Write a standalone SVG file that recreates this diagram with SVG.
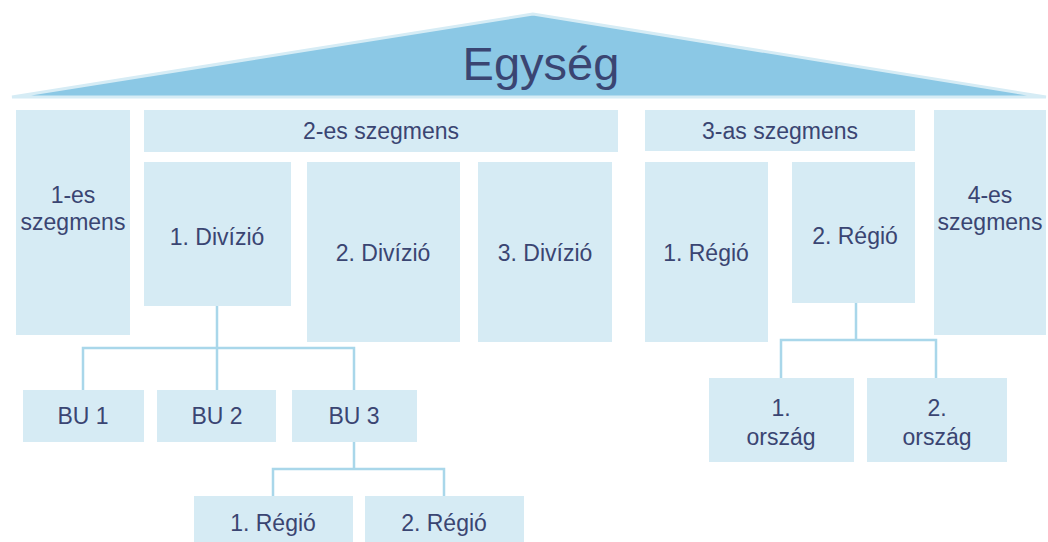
<svg xmlns="http://www.w3.org/2000/svg" width="1048" height="542" viewBox="0 0 1048 542">
<style>
.box{fill:#d6ebf4}
.t{font-family:"Liberation Sans",Arial,sans-serif;font-size:23px;fill:#3a4572;text-anchor:middle}
.c{fill:none;stroke:#a9d7ea;stroke-width:2.5}
</style>
<rect width="1048" height="542" fill="#ffffff"/>
<g id="roof">
<polygon points="533,14 12,97 1046,97" fill="#8bc8e5" stroke="#d6ecf5" stroke-width="3" stroke-linejoin="miter"/>
<text x="541" y="80" class="t" style="font-size:47px">Egység</text>
</g>
<g id="connectors">
<path class="c" d="M217,306 V348 M83,390 V348 H354 V390 M217,348 V390"/>
<path class="c" d="M354,442 V469 M273,496 V469 H444 V496"/>
<path class="c" d="M856,303 V340 M781,378 V340 H936 V378"/>
</g>
<g id="seg1"><rect class="box" x="16" y="110" width="114" height="225"/><text class="t" x="73" y="203">1-es</text><text class="t" x="73" y="230">szegmens</text></g>
<g id="seg2"><rect class="box" x="144" y="110" width="474" height="42"/><text class="t" x="381" y="139">2-es szegmens</text></g>
<g id="div1"><rect class="box" x="144" y="162" width="147" height="144"/><text class="t" x="217" y="245">1. Divízió</text></g>
<g id="div2"><rect class="box" x="307" y="162" width="153" height="180"/><text class="t" x="383" y="261">2. Divízió</text></g>
<g id="div3"><rect class="box" x="478" y="162" width="134" height="180"/><text class="t" x="545" y="261">3. Divízió</text></g>
<g id="seg3"><rect class="box" x="645" y="110" width="270" height="41"/><text class="t" x="780" y="139">3-as szegmens</text></g>
<g id="reg1"><rect class="box" x="645" y="162" width="123" height="180"/><text class="t" x="706" y="261">1. Régió</text></g>
<g id="reg2"><rect class="box" x="792" y="162" width="123" height="141"/><text class="t" x="855" y="244">2. Régió</text></g>
<g id="seg4"><rect class="box" x="934" y="110" width="112" height="225"/><text class="t" x="990" y="203">4-es</text><text class="t" x="990" y="230">szegmens</text></g>
<g id="bu1"><rect class="box" x="23" y="390" width="121" height="52"/><text class="t" x="83" y="424">BU 1</text></g>
<g id="bu2"><rect class="box" x="157" y="390" width="119" height="52"/><text class="t" x="217" y="424">BU 2</text></g>
<g id="bu3"><rect class="box" x="292" y="390" width="125" height="52"/><text class="t" x="354" y="424">BU 3</text></g>
<g id="breg1"><rect class="box" x="194" y="496" width="159" height="46"/><text class="t" x="273" y="531">1. Régió</text></g>
<g id="breg2"><rect class="box" x="365" y="496" width="159" height="46"/><text class="t" x="444" y="531">2. Régió</text></g>
<g id="orsz1"><rect class="box" x="709" y="378" width="145" height="84"/><text class="t" x="781" y="416">1.</text><text class="t" x="781" y="445">ország</text></g>
<g id="orsz2"><rect class="box" x="867" y="378" width="140" height="84"/><text class="t" x="937" y="416">2.</text><text class="t" x="937" y="445">ország</text></g>
</svg>
